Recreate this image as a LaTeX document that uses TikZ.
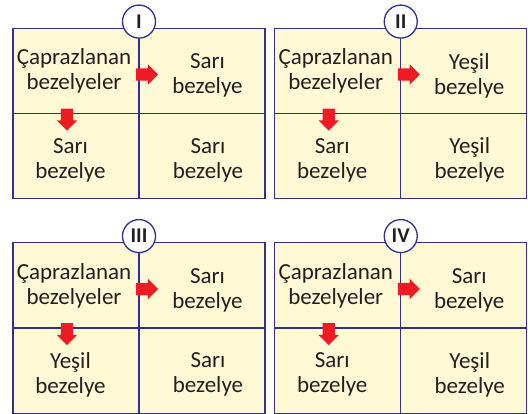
\documentclass[tikz,border=0pt]{standalone}
\usepackage{fontspec}
\setmainfont{Carlito}
\usetikzlibrary{shapes.arrows}
\definecolor{gridblue}{RGB}{46,49,146}
\definecolor{peafill}{RGB}{255,249,214}
\definecolor{peared}{RGB}{237,28,36}
\definecolor{textdark}{RGB}{35,31,32}
\tikzset{
  panelbox/.style={draw=gridblue,fill=peafill,line width=1.3pt,minimum width=252pt,minimum height=170.5pt,inner sep=0pt},
  gridline/.style={draw=gridblue,line width=1.3pt},
  numcircle/.style={circle,draw=gridblue,fill=white,line width=1.3pt,minimum size=33pt,inner sep=0pt,text=textdark,font=\bfseries\fontsize{21}{21}\selectfont},
  celltext/.style={align=center,inner sep=0pt,text=textdark,font=\fontsize{23}{25}\selectfont},
  redarrow/.style={single arrow,fill=peared,draw=none,inner xsep=0pt,inner ysep=6pt,minimum height=22pt,single arrow head extend=4pt,single arrow head indent=0pt}
}
% one crossing table: name, centre, number, right cell, lower cell, corner cell
\newcommand{\peapanel}[6]{%
  \node[panelbox] (#1) at (#2) {};
  \draw[gridline] (#1.north) -- (#1.south);
  \draw[gridline] (#1.west) -- (#1.east);
  \node[numcircle] (#1Num) at ([yshift=6pt]#1.north) {#3};
  \node[celltext] (#1Parent) at ([xshift=-65pt,yshift=42.5pt]#1.center) {Çaprazlanan\\bezelyeler};
  \node[celltext] (#1Right) at ([xshift=68.5pt,yshift=38pt]#1.center) {#4};
  \node[celltext] (#1Below) at ([xshift=-68.5pt,yshift=-46.5pt]#1.center) {#5};
  \node[celltext] (#1Corner) at ([xshift=69pt,yshift=-46.5pt]#1.center) {#6};
  \node[redarrow] (#1ArrRight) at ([xshift=5pt,yshift=39pt]#1.center) {};
  \node[redarrow,rotate=-90] (#1ArrDown) at ([xshift=-72pt,yshift=-3pt]#1.center) {};
}
\begin{document}
\begin{tikzpicture}[x=1pt,y=1pt]
\useasboundingbox (0,0) rectangle (528,414);
%the four panels
\peapanel{pI}{139,300.5}{I}{Sarı\\bezelye}{Sarı\\bezelye}{Sarı\\bezelye}
\peapanel{pII}{400.75,300.5}{II}{Yeşil\\bezelye}{Sarı\\bezelye}{Yeşil\\bezelye}
\peapanel{pIII}{139,86}{III}{Sarı\\bezelye}{Yeşil\\bezelye}{Sarı\\bezelye}
\peapanel{pIV}{400.75,86}{IV}{Sarı\\bezelye}{Sarı\\bezelye}{Yeşil\\bezelye}
\end{tikzpicture}
\end{document}
